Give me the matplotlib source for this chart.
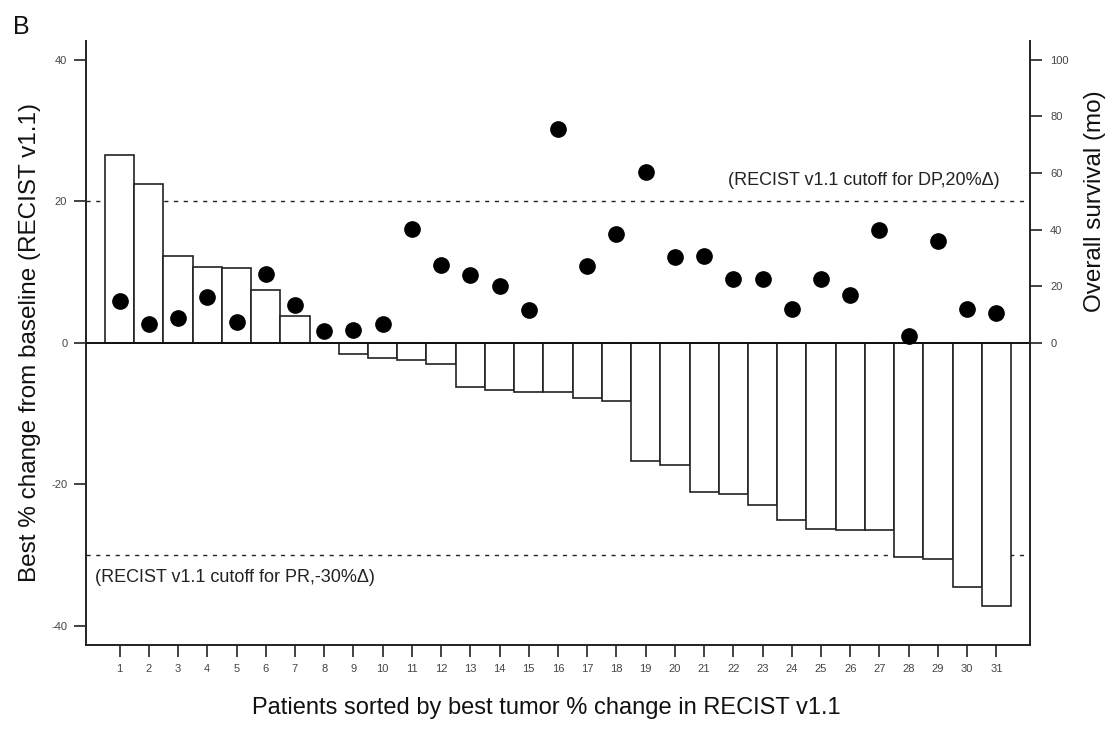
import matplotlib
matplotlib.use('Agg')
import matplotlib.pyplot as plt

# ---------------- data ----------------
patients = list(range(1, 32))
tumor_change = [26.5, 22.4, 12.3, 10.7, 10.6, 7.4, 3.8, 0.0, -1.6, -2.1,
                -2.4, -3.0, -6.3, -6.6, -6.9, -7.0, -7.8, -8.2, -16.7, -17.2,
                -21.1, -21.3, -22.9, -25.1, -26.3, -26.4, -26.4, -30.2, -30.5,
                -34.5, -37.2]
survival_mo = [14.7, 6.5, 8.8, 16.2, 7.3, 24.5, 13.5, 4.1, 4.7, 6.5,
               40.1, 27.5, 23.8, 20.0, 11.5, 75.6, 27.1, 38.4, 60.3, 30.5,
               30.7, 22.6, 22.4, 11.8, 22.4, 16.8, 39.7, 2.4, 36.0, 12.0, 10.4]
left_ticks = [-40, -20, 0, 20, 40]
right_ticks = [0, 20, 40, 60, 80, 100]
dp_cutoff = 20
pr_cutoff = -30
dp_text = "(RECIST v1.1 cutoff for DP,20%\u0394)"
pr_text = "(RECIST v1.1 cutoff for PR,-30%\u0394)"
xlabel = "Patients sorted by best tumor % change in RECIST v1.1"
ylabel_left = "Best % change from baseline (RECIST v1.1)"
ylabel_right = "Overall survival (mo)"

plt.rcParams['font.family'] = ['Liberation Sans', 'DejaVu Sans']
plt.rcParams['axes.unicode_minus'] = False

W, H = 1115, 730
fig = plt.figure(figsize=(W / 100, H / 100), dpi=100)
ax = fig.add_axes([86 / W, 1 - 645 / H, (1030 - 86) / W, (645 - 40.7) / H])

ax.set_xlim(-0.15, 32.15)
ax.set_ylim(-42.7, 42.7)

# cutoff dashed lines (behind bars)
for c in (dp_cutoff, pr_cutoff):
    ax.axhline(c, color='#222222', lw=1.0, ls=(0, (3, 4)), zorder=1)

ax.bar(patients, tumor_change, width=1.0, facecolor='white',
       edgecolor='#222222', linewidth=1.2, zorder=2)
ax.axhline(0, color='#111111', lw=1.4, zorder=3)

ax.text(31.1, 23.0, dp_text, ha='right', va='center', fontsize=13, color='#222222')
ax.text(0.16, -33.2, pr_text, ha='left', va='center', fontsize=13, color='#222222')

ax.set_xticks(patients)
ax.set_xticklabels([str(p) for p in patients])
ax.set_yticks(left_ticks)

for s in ('top', 'right'):
    ax.spines[s].set_visible(False)
for s in ('left', 'bottom'):
    ax.spines[s].set_linewidth(1.4)
    ax.spines[s].set_color('#222222')

ax.tick_params(axis='both', direction='out', length=8.5, width=1.2,
               color='#222222', labelsize=8, labelcolor='#444444', pad=5)

ax.set_xlabel(xlabel, fontsize=17, color='#111111')
ax.xaxis.set_label_coords((546 - 86) / 944, (645 - 708) / 604.3)
ax.xaxis.label.set_va('center')
ax.set_ylabel(ylabel_left, fontsize=17.5, color='#111111')
ax.yaxis.set_label_coords((30 - 86) / 944, 0.5)
ax.yaxis.label.set_va('center')

# ---------------- right axis: survival ----------------
ax2 = ax.twinx()
ax2.set_ylim(-106.75, 106.75)
ax2.plot(patients, survival_mo, 'o', color='black', markersize=11, zorder=5)
ax2.set_yticks(right_ticks)
for s in ('top', 'left', 'bottom'):
    ax2.spines[s].set_visible(False)
ax2.spines['right'].set_linewidth(1.4)
ax2.spines['right'].set_color('#222222')
ax2.tick_params(axis='y', direction='out', length=8.5, width=1.2,
                color='#222222', labelsize=8, labelcolor='#444444', pad=6)
ax2.set_ylabel(ylabel_right, fontsize=17.5, color='#111111')
ax2.yaxis.set_label_coords((1095 - 86) / 944, (645 - 201.5) / 604.3)
ax2.yaxis.label.set_va('center')

fig.text(13 / W, 1 - 27 / H, "B", fontsize=18, ha='left', va='center', color='#111111')

fig.savefig('out.png', dpi=100, facecolor='white')
